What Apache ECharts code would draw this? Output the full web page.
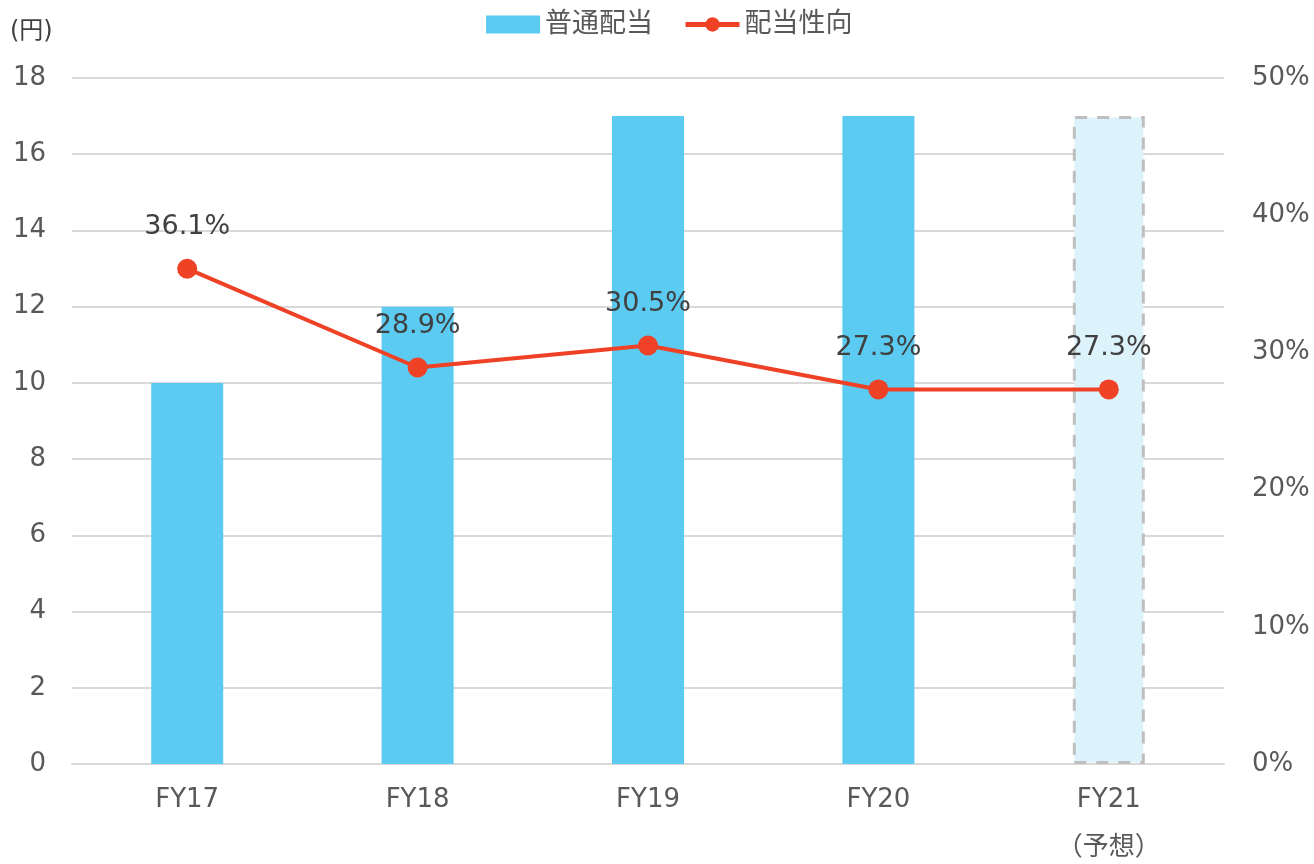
<!DOCTYPE html>
<html><head><meta charset="utf-8">
<script src="https://cdn.jsdelivr.net/npm/echarts@6/dist/echarts.min.js"></script>
<style>html,body{margin:0;padding:0;background:#fff}#c{width:1314px;height:864px}</style>
</head><body><div id="c"></div>
<script>
const categories = ['FY17', 'FY18', 'FY19', 'FY20', 'FY21\n（予想）'];
const dividends = [10, 12, 17, 17, 17];
const payoutRatio = [36.1, 28.9, 30.5, 27.3, 27.3];
const forecastIndex = 4;
const leftTicks = { min: 0, max: 18, interval: 2 };
const rightTicks = { min: 0, max: 50, interval: 10 };

const FONT = '"DejaVu Sans", "Noto Sans CJK JP", sans-serif';
const chart = echarts.init(document.getElementById('c'));
chart.setOption({
  animation: false,
  textStyle: { fontFamily: FONT },
  legend: {
    top: 6, left: 481, itemGap: 30, itemWidth: 54, itemHeight: 18,
    textStyle: { fontSize: 27, color: '#595959', fontFamily: FONT },
    data: [
      { name: '普通配当', icon: 'rect' },
      { name: '配当性向', itemStyle: { color: '#EE4125' }, lineStyle: { width: 5, color: '#EE4125' } }
    ]
  },
  graphic: [{
    type: 'text', left: 10, top: 20,
    style: { text: '(円)', fontSize: 24, fill: '#404040', fontFamily: FONT }
  }],
  grid: { left: 72, right: 90, top: 78, bottom: 100, containLabel: false, outerBoundsMode: 'none' },
  xAxis: {
    type: 'category', data: categories,
    axisLine: { lineStyle: { color: '#D9D9D9', width: 2 } },
    axisTick: { show: false },
    axisLabel: { fontSize: 26, color: '#595959', margin: 12, lineHeight: 48, fontFamily: FONT }
  },
  yAxis: [
    {
      type: 'value', min: leftTicks.min, max: leftTicks.max, interval: leftTicks.interval,
      axisLabel: { fontSize: 26, color: '#595959', margin: 26, fontFamily: FONT },
      splitLine: { lineStyle: { color: '#D9D9D9', width: 2 } },
      axisLine: { show: false }, axisTick: { show: false }
    },
    {
      type: 'value', min: rightTicks.min, max: rightTicks.max, interval: rightTicks.interval,
      axisLabel: { fontSize: 26, color: '#595959', margin: 28, formatter: '{value}%', fontFamily: FONT },
      splitLine: { show: false }, axisLine: { show: false }, axisTick: { show: false }
    }
  ],
  series: [
    {
      name: '普通配当', type: 'bar', barWidth: 72, yAxisIndex: 0,
      itemStyle: { color: '#5BCBF2' },
      data: dividends.map((v, i) => i === forecastIndex ? {
        value: v,
        itemStyle: { color: '#DDF3FC', borderColor: '#BFBFBF', borderWidth: 3, borderType: [12, 10] }
      } : v)
    },
    {
      name: '配当性向', type: 'line', yAxisIndex: 1, data: payoutRatio,
      symbol: 'circle', symbolSize: 20,
      lineStyle: { color: '#EE4125', width: 4 },
      itemStyle: { color: '#EE4125' },
      label: {
        show: true, position: 'top', distance: 18,
        formatter: p => p.value.toFixed(1) + '%',
        fontSize: 27, color: '#404040', fontFamily: FONT
      },
      z: 5
    }
  ]
});
</script></body></html>
